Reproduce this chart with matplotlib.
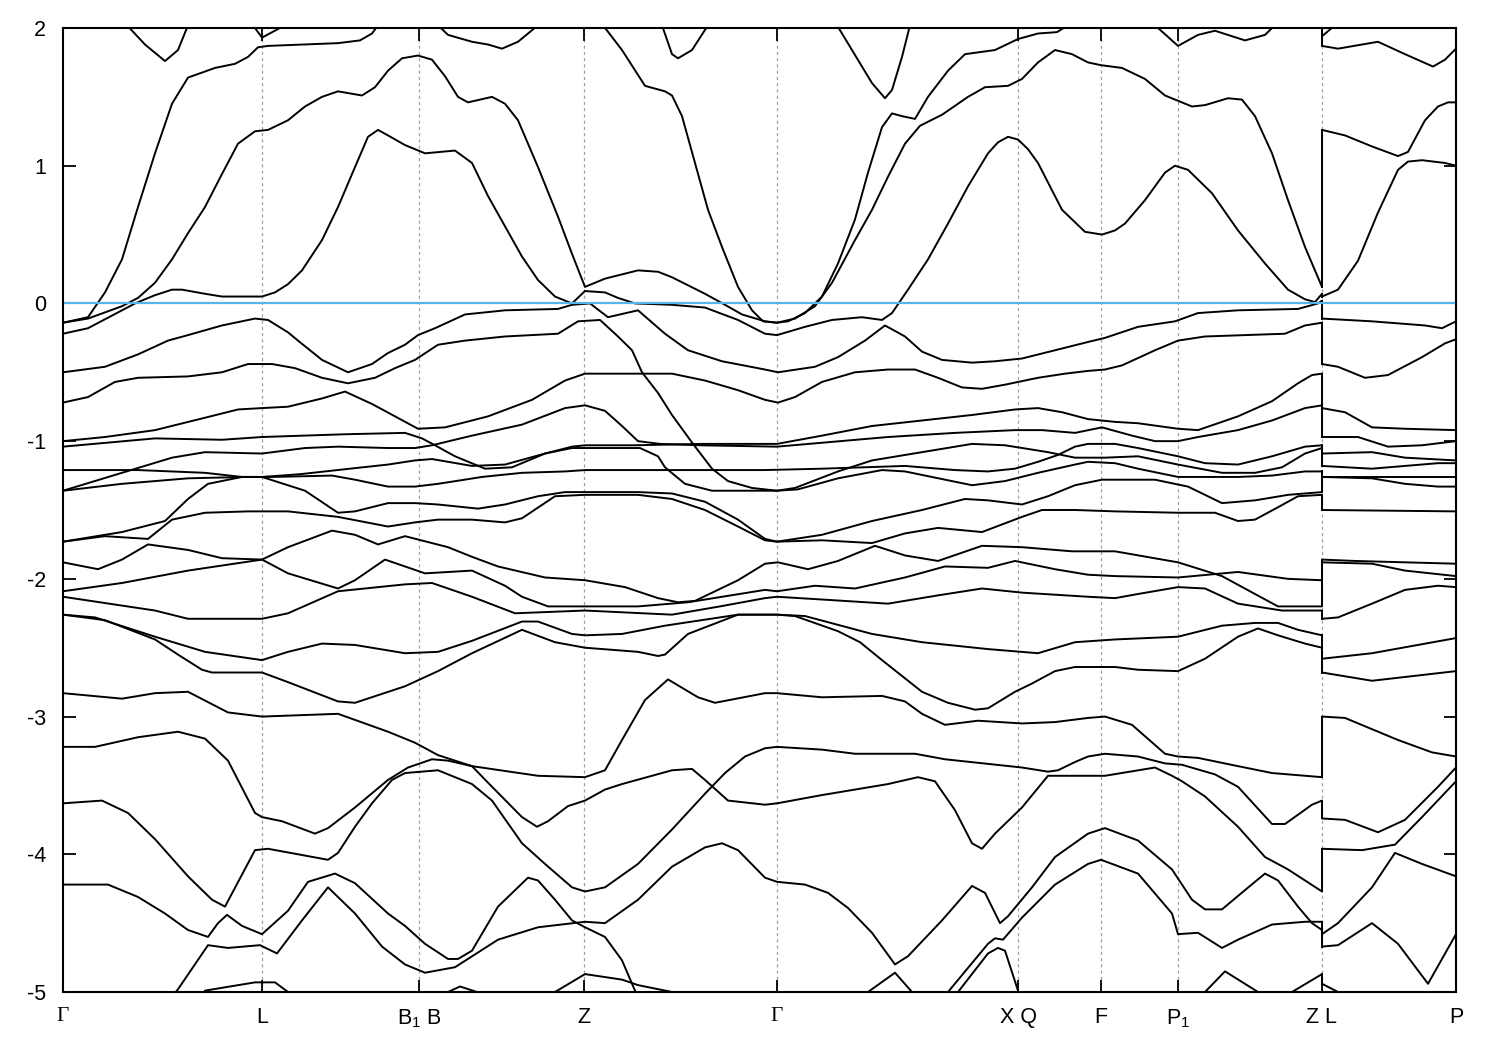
import matplotlib
matplotlib.use('Agg')
import matplotlib.pyplot as plt

plt.rcParams['font.family'] = ['Liberation Sans', 'DejaVu Sans']
plt.rcParams['mathtext.fontset'] = 'custom'
plt.rcParams['mathtext.rm'] = 'Liberation Sans'
plt.rcParams['mathtext.it'] = 'Liberation Sans'
plt.rcParams['axes.unicode_minus'] = False

# ---------------- data ----------------
kpt_pos = [0.0, 1.99, 3.56, 5.21, 7.14, 9.55, 10.38, 11.15, 12.59, 13.93]
kpt_labels = ['Γ', 'L', 'B$_1$ B', 'Z', 'Γ', 'X Q', 'F', 'P$_1$', 'Z L', 'P']
y_ticks = [-5, -4, -3, -2, -1, 0, 1, 2]
E_fermi = 0.0
k_jump = 12.59   # Z | L discontinuity

# bands along Γ-L-B1|B-Z-Γ-X|Q-F-P1-Z   (k, E[eV])
band_t1 = [(0.64, 2.02), (0.82, 1.88), (1.02, 1.76), (1.15, 1.84), (1.25, 2.02)]
band_t8 = [(1.90, 2.02), (1.99, 1.93), (2.22, 2.02)]
band_t7 = [(3.75, 2.02), (3.85, 1.95), (4.09, 1.90), (4.25, 1.88), (4.39, 1.85), (4.55, 1.90), (4.75, 2.02)]
band_t6 = [(5.99, 2.02), (6.09, 1.81), (6.15, 1.78), (6.29, 1.84), (6.45, 2.02)]
band_t9 = [(7.74, 2.02), (7.89, 1.84), (8.09, 1.60), (8.22, 1.49), (8.29, 1.55), (8.39, 1.79), (8.47, 2.02)]
band_t14 = [(10.92, 2.02), (11.15, 1.87), (11.35, 1.95), (11.52, 1.98), (11.82, 1.91), (12.02, 1.95), (12.12, 2.02)]

band_a = [(0, -0.14), (0.25, -0.10), (0.42, 0.08), (0.59, 0.32), (0.75, 0.70), (0.92, 1.09), (1.09, 1.45),
          (1.25, 1.64), (1.52, 1.71), (1.72, 1.74), (1.85, 1.79), (1.95, 1.86), (2.05, 1.87), (2.75, 1.89),
          (2.97, 1.91), (3.09, 1.96), (3.15, 2.02)]

band_b = [(5.40, 2.02), (5.59, 1.84), (5.82, 1.58), (6.02, 1.54), (6.09, 1.51), (6.19, 1.36), (6.32, 1.02),
          (6.45, 0.68), (6.59, 0.41), (6.75, 0.12), (6.89, -0.05), (7.00, -0.13), (7.14, -0.14), (7.25, -0.13),
          (7.42, -0.07), (7.59, 0.05), (7.75, 0.29), (7.92, 0.61), (8.05, 0.95), (8.19, 1.28), (8.29, 1.38),
          (8.39, 1.36), (8.52, 1.34), (8.65, 1.50), (8.85, 1.69), (9.02, 1.81), (9.32, 1.84), (9.55, 1.92),
          (9.75, 1.96), (9.94, 1.97), (10.05, 2.02)]

band_c = [(0, -0.14), (0.25, -0.11), (0.59, -0.02), (0.75, 0.04), (0.92, 0.15), (1.09, 0.32), (1.25, 0.51),
          (1.42, 0.70), (1.59, 0.94), (1.75, 1.16), (1.92, 1.25), (2.05, 1.26), (2.25, 1.33), (2.42, 1.43),
          (2.59, 1.50), (2.75, 1.54), (2.99, 1.51), (3.12, 1.57), (3.25, 1.69), (3.39, 1.78), (3.55, 1.80),
          (3.69, 1.77), (3.82, 1.65), (3.95, 1.50), (4.05, 1.46), (4.29, 1.50), (4.42, 1.45), (4.55, 1.33),
          (4.75, 0.99), (4.95, 0.63), (5.09, 0.36), (5.22, 0.12), (5.42, 0.18), (5.75, 0.24), (5.95, 0.23),
          (6.09, 0.19), (6.42, 0.07), (6.62, -0.01), (6.79, -0.08), (7.02, -0.13), (7.14, -0.14), (7.32, -0.11),
          (7.52, -0.02), (7.69, 0.15), (7.92, 0.46), (8.09, 0.68), (8.25, 0.92), (8.42, 1.16), (8.57, 1.29),
          (8.79, 1.37), (9.05, 1.50), (9.22, 1.57), (9.45, 1.58), (9.59, 1.63), (9.75, 1.75), (9.92, 1.84),
          (10.09, 1.81), (10.25, 1.75), (10.38, 1.73), (10.59, 1.71), (10.82, 1.63), (11.02, 1.51), (11.29, 1.43),
          (11.42, 1.44), (11.65, 1.49), (11.79, 1.48), (11.92, 1.36), (12.09, 1.09), (12.25, 0.75), (12.42, 0.41),
          (12.59, 0.12)]

band_d = [(0, -0.22), (0.25, -0.18), (0.59, -0.05), (0.72, 0.0), (0.92, 0.06), (1.09, 0.10), (1.19, 0.10),
          (1.42, 0.07), (1.59, 0.05), (1.99, 0.05), (2.12, 0.08), (2.25, 0.14), (2.39, 0.24), (2.59, 0.46),
          (2.75, 0.70), (2.92, 0.99), (3.05, 1.21), (3.15, 1.26), (3.25, 1.22), (3.42, 1.15), (3.62, 1.09),
          (3.92, 1.11), (4.09, 1.02), (4.25, 0.78), (4.42, 0.56), (4.59, 0.34), (4.75, 0.17), (4.92, 0.05),
          (5.09, 0.0), (5.22, 0.09), (5.42, 0.08), (5.55, 0.04), (5.72, 0.0), (6.09, -0.01), (6.42, -0.03),
          (6.75, -0.12), (7.02, -0.22), (7.14, -0.23), (7.42, -0.17), (7.69, -0.12), (7.99, -0.10), (8.19, -0.12),
          (8.29, -0.07), (8.45, 0.10), (8.65, 0.32), (8.85, 0.58), (9.05, 0.85), (9.25, 1.09), (9.35, 1.17),
          (9.45, 1.21), (9.55, 1.19), (9.65, 1.12), (9.75, 1.02), (9.99, 0.68), (10.22, 0.52), (10.39, 0.50),
          (10.52, 0.53), (10.62, 0.58), (10.82, 0.75), (11.02, 0.95), (11.12, 1.0), (11.25, 0.97), (11.49, 0.80),
          (11.75, 0.53), (12.02, 0.29), (12.25, 0.10), (12.42, 0.03), (12.52, 0.01), (12.59, 0.07)]

band_n = [(0, -0.50), (0.42, -0.46), (0.75, -0.37), (1.05, -0.27), (1.25, -0.23), (1.59, -0.16), (1.92, -0.11),
          (2.05, -0.12), (2.25, -0.21), (2.35, -0.27), (2.59, -0.41), (2.85, -0.50), (3.09, -0.44), (3.25, -0.36),
          (3.42, -0.30), (3.55, -0.23), (3.72, -0.18), (4.02, -0.08), (4.42, -0.05), (4.95, -0.04), (5.09, -0.01),
          (5.27, 0.0), (5.45, -0.10), (5.75, -0.05), (6.02, -0.22), (6.25, -0.34), (6.59, -0.42), (7.02, -0.48),
          (7.15, -0.50), (7.52, -0.46), (7.75, -0.39), (8.02, -0.27), (8.22, -0.16), (8.42, -0.24), (8.59, -0.35),
          (8.79, -0.41), (9.09, -0.43), (9.32, -0.42), (9.59, -0.40), (9.92, -0.34), (10.25, -0.28), (10.42, -0.25),
          (10.75, -0.17), (11.12, -0.13), (11.35, -0.07), (11.75, -0.05), (12.35, -0.04), (12.55, 0.0), (12.59, 0.02)]

band_m1 = [(0, -0.72), (0.25, -0.68), (0.52, -0.57), (0.75, -0.54), (1.25, -0.53), (1.59, -0.50), (1.85, -0.44),
           (2.09, -0.44), (2.32, -0.47), (2.59, -0.54), (2.85, -0.58), (3.12, -0.54), (3.32, -0.47), (3.52, -0.41),
           (3.75, -0.30), (4.02, -0.27), (4.42, -0.24), (4.95, -0.22), (5.15, -0.13), (5.37, -0.12), (5.55, -0.24),
           (5.69, -0.34), (5.79, -0.50), (5.95, -0.65), (6.09, -0.81), (6.29, -1.01), (6.49, -1.20), (6.65, -1.29),
           (6.89, -1.34), (7.14, -1.36), (7.32, -1.34), (7.75, -1.22), (8.09, -1.14), (8.59, -1.08), (9.09, -1.02),
           (9.42, -1.03), (9.85, -1.08), (10.12, -1.12), (10.42, -1.12), (10.75, -1.11), (11.15, -1.17),
           (11.59, -1.23), (11.92, -1.23), (12.19, -1.19), (12.42, -1.09), (12.59, -1.05)]

band_m2 = [(0, -1.00), (0.42, -0.97), (0.92, -0.92), (1.42, -0.83), (1.75, -0.77), (1.99, -0.76), (2.25, -0.75),
           (2.59, -0.69), (2.82, -0.64), (3.09, -0.73), (3.32, -0.82), (3.55, -0.91), (3.82, -0.90), (4.25, -0.82),
           (4.69, -0.70), (5.02, -0.56), (5.22, -0.51), (5.75, -0.51), (6.09, -0.51), (6.42, -0.56), (6.75, -0.63),
           (7.02, -0.70), (7.15, -0.72), (7.32, -0.68), (7.59, -0.57), (7.92, -0.50), (8.25, -0.48), (8.52, -0.48),
           (8.75, -0.54), (8.99, -0.61), (9.19, -0.62), (9.42, -0.59), (9.75, -0.54), (10.02, -0.51), (10.25, -0.49),
           (10.42, -0.48), (10.59, -0.45), (10.92, -0.34), (11.15, -0.27), (11.42, -0.24), (12.22, -0.22),
           (12.42, -0.16), (12.59, -0.14)]

band_m3 = [(0, -1.04), (0.92, -0.98), (1.59, -0.99), (1.99, -0.97), (2.82, -0.95), (3.42, -0.94), (3.59, -0.98),
           (3.72, -1.03), (3.92, -1.11), (4.22, -1.20), (4.49, -1.19), (4.82, -1.09), (5.09, -1.04), (5.22, -1.03),
           (5.72, -1.03), (6.37, -1.02), (7.14, -1.02), (7.59, -0.96), (8.09, -0.89), (8.59, -0.85), (9.09, -0.81),
           (9.52, -0.77), (9.75, -0.76), (9.99, -0.79), (10.25, -0.84), (10.52, -0.86), (10.75, -0.87),
           (11.15, -0.91), (11.35, -0.92), (11.75, -0.82), (12.09, -0.71), (12.35, -0.58), (12.49, -0.52),
           (12.59, -0.51)]

band_p = [(0, -1.36), (0.59, -1.23), (1.09, -1.12), (1.42, -1.08), (1.99, -1.09), (2.42, -1.05), (2.75, -1.04),
          (3.25, -1.05), (3.52, -1.05), (3.69, -1.03), (4.09, -0.96), (4.59, -0.88), (5.02, -0.76), (5.22, -0.74),
          (5.42, -0.78), (5.59, -0.89), (5.75, -1.00), (5.97, -1.02), (6.37, -1.03), (7.14, -1.04), (8.25, -0.97),
          (8.92, -0.94), (9.52, -0.92), (9.79, -0.92), (10.12, -0.94), (10.39, -0.90), (10.69, -0.96),
          (10.92, -1.00), (11.15, -1.00), (11.35, -0.97), (11.75, -0.92), (12.09, -0.85), (12.42, -0.76),
          (12.59, -0.74)]

band_q = [(0, -1.21), (0.75, -1.21), (1.42, -1.23), (1.79, -1.26), (2.09, -1.26), (2.69, -1.25), (2.92, -1.28),
          (3.25, -1.33), (3.52, -1.33), (3.75, -1.31), (4.19, -1.26), (4.59, -1.23), (5.02, -1.22), (5.22, -1.21),
          (5.99, -1.21), (7.02, -1.21), (7.59, -1.20), (8.42, -1.18), (8.92, -1.21), (9.25, -1.22), (9.52, -1.20),
          (9.75, -1.15), (9.95, -1.10), (10.12, -1.04), (10.25, -1.02), (10.52, -1.02), (10.75, -1.05),
          (11.15, -1.11), (11.42, -1.16), (11.75, -1.17), (12.09, -1.11), (12.42, -1.04), (12.59, -1.03)]

band_r0 = [(0, -1.36), (0.59, -1.31), (1.25, -1.27), (1.82, -1.26), (1.99, -1.26), (2.37, -1.24), (2.87, -1.20),
           (3.25, -1.17), (3.52, -1.14), (3.69, -1.13), (4.09, -1.18), (4.42, -1.17), (4.82, -1.09), (5.09, -1.05),
           (5.22, -1.05), (5.77, -1.05), (5.95, -1.11), (6.02, -1.19), (6.22, -1.31), (6.49, -1.36), (7.14, -1.36),
           (7.35, -1.35), (7.75, -1.27), (8.19, -1.21), (8.42, -1.22), (9.09, -1.32), (9.42, -1.29), (9.75, -1.23),
           (10.12, -1.17), (10.25, -1.15), (10.52, -1.16), (10.75, -1.20), (11.15, -1.26), (11.75, -1.26),
           (12.09, -1.25), (12.42, -1.22), (12.59, -1.22)]

band_s1 = [(0, -1.73), (0.59, -1.66), (1.02, -1.58), (1.25, -1.42), (1.45, -1.31), (1.79, -1.26), (1.99, -1.26),
           (2.42, -1.36), (2.75, -1.52), (2.92, -1.51), (3.25, -1.45), (3.52, -1.45), (3.75, -1.46), (4.15, -1.49),
           (4.42, -1.46), (4.75, -1.40), (5.02, -1.37), (5.22, -1.37), (5.75, -1.37), (6.09, -1.38), (6.42, -1.44),
           (6.75, -1.57), (7.02, -1.71), (7.14, -1.73), (7.59, -1.68), (8.09, -1.58), (8.59, -1.50), (9.02, -1.42),
           (9.25, -1.43), (9.59, -1.46), (9.85, -1.40), (10.12, -1.32), (10.39, -1.28), (10.92, -1.28),
           (11.25, -1.33), (11.59, -1.45), (11.92, -1.43), (12.25, -1.39), (12.59, -1.37)]

band_s2 = [(0, -1.73), (0.42, -1.69), (0.85, -1.71), (1.09, -1.57), (1.42, -1.52), (1.85, -1.51), (2.25, -1.51),
           (2.75, -1.55), (3.25, -1.62), (3.52, -1.59), (3.75, -1.57), (4.09, -1.57), (4.42, -1.59), (4.59, -1.56),
           (4.92, -1.40), (5.22, -1.39), (5.75, -1.39), (6.09, -1.42), (6.42, -1.50), (6.75, -1.62), (7.02, -1.72),
           (7.14, -1.73), (7.59, -1.72), (8.09, -1.74), (8.42, -1.67), (8.75, -1.63), (9.19, -1.66), (9.59, -1.55),
           (9.79, -1.50), (10.12, -1.50), (10.52, -1.51), (11.15, -1.52), (11.52, -1.52), (11.75, -1.58),
           (11.92, -1.57), (12.15, -1.48), (12.35, -1.40), (12.59, -1.39)]

band_c1 = [(0, -1.88), (0.35, -1.93), (0.59, -1.86), (0.85, -1.75), (1.25, -1.79), (1.59, -1.85), (1.99, -1.86),
           (2.25, -1.77), (2.69, -1.65), (2.92, -1.68), (3.15, -1.75), (3.42, -1.69), (3.85, -1.77), (4.09, -1.84),
           (4.35, -1.91), (4.82, -1.99), (5.22, -2.01), (5.62, -2.06), (5.95, -2.14), (6.15, -2.17), (6.32, -2.16),
           (6.75, -2.01), (7.02, -1.89), (7.15, -1.88), (7.45, -1.93), (7.75, -1.87), (8.12, -1.76), (8.42, -1.83),
           (8.75, -1.87), (9.19, -1.76), (9.59, -1.77), (10.09, -1.80), (10.52, -1.80), (11.15, -1.88),
           (11.59, -1.98), (11.92, -2.11), (12.15, -2.20), (12.59, -2.20)]

band_c2 = [(0, -2.09), (0.59, -2.03), (1.25, -1.94), (1.99, -1.86), (2.25, -1.96), (2.75, -2.07), (2.92, -2.01),
           (3.22, -1.86), (3.42, -1.91), (3.62, -1.96), (4.09, -1.94), (4.42, -2.05), (4.59, -2.13), (4.85, -2.20),
           (5.22, -2.20), (5.75, -2.20), (6.25, -2.17), (7.02, -2.08), (7.14, -2.09), (7.52, -2.05), (7.92, -2.07),
           (8.42, -1.99), (8.82, -1.91), (9.25, -1.92), (9.52, -1.87), (9.92, -1.93), (10.25, -1.97),
           (10.52, -1.98), (11.15, -1.99), (11.75, -1.95), (12.25, -2.00), (12.59, -2.01)]

band_c3 = [(0, -2.13), (0.92, -2.23), (1.25, -2.29), (1.99, -2.29), (2.25, -2.25), (2.75, -2.09), (3.42, -2.04),
           (3.69, -2.03), (4.09, -2.13), (4.52, -2.25), (5.22, -2.23), (6.09, -2.26), (6.57, -2.20), (7.02, -2.14),
           (7.14, -2.13), (7.59, -2.15), (8.25, -2.18), (8.75, -2.12), (9.19, -2.07), (9.59, -2.10), (10.25, -2.13),
           (10.52, -2.14), (10.75, -2.11), (11.15, -2.06), (11.42, -2.07), (11.75, -2.18), (12.19, -2.23),
           (12.59, -2.23)]

band_w1 = [(0, -2.26), (0.32, -2.28), (0.92, -2.42), (1.42, -2.53), (1.99, -2.59), (2.25, -2.53), (2.59, -2.47),
           (2.92, -2.48), (3.42, -2.54), (3.75, -2.53), (4.09, -2.45), (4.59, -2.31), (4.75, -2.31), (5.09, -2.40),
           (5.22, -2.41), (5.59, -2.40), (6.02, -2.34), (6.75, -2.26), (7.14, -2.26), (7.42, -2.27), (8.09, -2.40),
           (8.59, -2.46), (9.25, -2.51), (9.75, -2.54), (10.12, -2.46), (10.52, -2.44), (11.15, -2.42),
           (11.59, -2.34), (11.92, -2.32), (12.15, -2.32), (12.35, -2.37), (12.59, -2.41)]

band_w2 = [(0, -2.26), (0.42, -2.30), (0.92, -2.44), (1.15, -2.55), (1.39, -2.66), (1.49, -2.68), (1.99, -2.68),
           (2.25, -2.75), (2.75, -2.89), (2.92, -2.90), (3.42, -2.78), (3.75, -2.67), (4.09, -2.54), (4.59, -2.37),
           (4.92, -2.46), (5.22, -2.50), (5.75, -2.53), (5.95, -2.56), (6.02, -2.55), (6.25, -2.40), (6.75, -2.26),
           (7.14, -2.26), (7.32, -2.27), (7.75, -2.38), (7.97, -2.46), (8.19, -2.59), (8.59, -2.82), (8.85, -2.90),
           (9.12, -2.95), (9.25, -2.94), (9.52, -2.82), (9.69, -2.76), (9.92, -2.67), (10.12, -2.64), (10.52, -2.64),
           (10.75, -2.66), (11.15, -2.67), (11.42, -2.58), (11.75, -2.42), (11.95, -2.36), (12.15, -2.41),
           (12.42, -2.47), (12.59, -2.50)]

band_x1 = [(0, -2.83), (0.59, -2.87), (0.92, -2.83), (1.25, -2.82), (1.65, -2.97), (1.99, -3.00), (2.75, -2.98),
           (3.25, -3.11), (3.52, -3.19), (3.75, -3.28), (4.09, -3.36), (4.75, -3.43), (5.22, -3.44), (5.42, -3.39),
           (5.59, -3.17), (5.82, -2.88), (6.05, -2.73), (6.35, -2.86), (6.52, -2.90), (7.02, -2.83), (7.14, -2.83),
           (7.59, -2.86), (8.19, -2.85), (8.42, -2.89), (8.59, -2.98), (8.82, -3.06), (9.15, -3.03), (9.59, -3.05),
           (9.92, -3.04), (10.25, -3.01), (10.42, -3.00), (10.69, -3.06), (11.02, -3.27), (11.15, -3.29),
           (11.35, -3.30), (11.75, -3.36), (12.09, -3.41), (12.59, -3.44)]

band_x2 = [(0, -3.22), (0.32, -3.22), (0.75, -3.15), (1.15, -3.11), (1.42, -3.16), (1.65, -3.32), (1.92, -3.70),
           (1.99, -3.73), (2.19, -3.76), (2.52, -3.85), (2.65, -3.81), (2.92, -3.66), (3.25, -3.46), (3.45, -3.37),
           (3.69, -3.31), (3.85, -3.32), (4.09, -3.36), (4.25, -3.48), (4.59, -3.73), (4.74, -3.80), (4.85, -3.76),
           (5.05, -3.65), (5.22, -3.61), (5.42, -3.53), (5.59, -3.49), (6.09, -3.39), (6.29, -3.38), (6.42, -3.46),
           (6.65, -3.61), (7.02, -3.64), (7.14, -3.63), (7.59, -3.57), (8.25, -3.49), (8.55, -3.44), (8.72, -3.47),
           (8.92, -3.68), (9.09, -3.92), (9.19, -3.96), (9.32, -3.85), (9.59, -3.66), (9.85, -3.43), (10.25, -3.43),
           (10.42, -3.43), (10.92, -3.37), (11.09, -3.43), (11.19, -3.47), (11.42, -3.58), (11.75, -3.80),
           (12.02, -4.02), (12.25, -4.11), (12.59, -4.27)]

band_x3 = [(0, -3.63), (0.39, -3.61), (0.65, -3.70), (0.92, -3.89), (1.25, -4.16), (1.49, -4.33), (1.62, -4.38),
           (1.92, -3.97), (2.05, -3.96), (2.65, -4.04), (2.75, -3.99), (2.92, -3.80), (3.09, -3.63), (3.29, -3.46),
           (3.42, -3.41), (3.75, -3.39), (4.09, -3.49), (4.29, -3.61), (4.59, -3.92), (4.82, -4.07), (5.09, -4.24),
           (5.22, -4.27), (5.42, -4.24), (5.75, -4.07), (6.09, -3.82), (6.42, -3.56), (6.62, -3.41), (6.82, -3.29),
           (7.02, -3.23), (7.14, -3.22), (7.59, -3.24), (7.92, -3.27), (8.52, -3.27), (8.82, -3.31), (9.59, -3.37),
           (9.85, -3.40), (9.95, -3.39), (10.12, -3.33), (10.25, -3.29), (10.42, -3.27), (10.75, -3.29),
           (11.02, -3.34), (11.19, -3.35), (11.52, -3.42), (11.75, -3.51), (12.09, -3.78), (12.22, -3.78),
           (12.49, -3.64), (12.59, -3.61)]

band_v1 = [(0, -4.22), (0.45, -4.22), (0.75, -4.31), (1.02, -4.43), (1.25, -4.55), (1.45, -4.60), (1.55, -4.50),
           (1.64, -4.44), (1.79, -4.52), (1.99, -4.58), (2.25, -4.41), (2.45, -4.20), (2.72, -4.14), (2.92, -4.21),
           (3.25, -4.43), (3.42, -4.52), (3.62, -4.65), (3.85, -4.76), (3.95, -4.76), (4.09, -4.70), (4.35, -4.38),
           (4.65, -4.17), (4.75, -4.19), (4.92, -4.33), (5.09, -4.48), (5.22, -4.53), (5.42, -4.60), (5.59, -4.77),
           (5.72, -4.99), (5.77, -5.05)]

band_v2 = [(1.07, -5.05), (1.15, -4.98), (1.45, -4.66), (1.65, -4.68), (1.97, -4.66), (2.14, -4.72), (2.39, -4.48),
           (2.65, -4.24), (2.92, -4.43), (3.19, -4.67), (3.42, -4.80), (3.62, -4.86), (3.92, -4.82), (4.35, -4.62),
           (4.75, -4.53), (5.22, -4.49), (5.42, -4.50), (5.75, -4.33), (6.09, -4.09), (6.42, -3.95), (6.59, -3.92),
           (6.75, -3.97), (7.02, -4.17), (7.14, -4.20), (7.42, -4.22), (7.65, -4.28), (7.85, -4.39), (8.09, -4.57),
           (8.32, -4.80), (8.45, -4.74), (8.79, -4.48), (9.09, -4.23), (9.22, -4.28), (9.37, -4.50), (9.45, -4.45),
           (9.69, -4.24), (9.92, -4.02), (10.25, -3.85), (10.42, -3.81), (10.75, -3.90), (11.09, -4.11),
           (11.29, -4.33), (11.42, -4.40), (11.59, -4.40), (11.82, -4.26), (12.02, -4.14), (12.15, -4.19),
           (12.35, -4.38), (12.49, -4.50), (12.59, -4.55)]

band_x6 = [(8.82, -5.05), (8.85, -5.0), (9.25, -4.65), (9.32, -4.61), (9.40, -4.62), (9.59, -4.46), (9.92, -4.22),
           (10.25, -4.07), (10.38, -4.04), (10.75, -4.14), (11.09, -4.43), (11.15, -4.58), (11.35, -4.57),
           (11.59, -4.68), (11.75, -4.62), (12.09, -4.51), (12.42, -4.49), (12.59, -4.49)]
band_x7 = [(8.92, -5.05), (8.95, -5.0), (9.25, -4.72), (9.35, -4.68), (9.42, -4.70), (9.55, -4.99), (9.56, -5.05)]

band_sb1 = [(8.02, -5.05), (8.05, -5.0), (8.32, -4.86), (8.49, -5.0), (8.52, -5.05)]
band_sb2 = [(11.39, -5.05), (11.42, -5.0), (11.62, -4.85), (11.95, -5.0), (11.99, -5.05)]
band_sb3 = [(12.25, -5.05), (12.29, -5.0), (12.59, -4.87)]
band_sb4 = [(3.82, -5.05), (3.85, -5.0), (3.97, -4.96), (4.14, -5.0), (4.17, -5.05)]
band_sb5 = [(4.87, -5.05), (4.92, -5.0), (5.22, -4.87), (5.59, -4.91), (5.75, -4.95), (6.09, -5.0), (6.17, -5.05)]
band_sb6 = [(1.37, -5.05), (1.42, -4.99), (1.92, -4.93), (2.12, -4.93), (2.25, -5.0), (2.27, -5.05)]

# bands along L-P (after the Z|L jump)
lp_t15 = [(12.59, 1.94), (12.72, 2.02)]
lp_t16 = [(12.59, 1.87), (12.75, 1.85), (13.15, 1.90), (13.42, 1.81), (13.70, 1.72), (13.82, 1.77), (13.93, 1.85)]
lp_t17 = [(12.59, 1.26), (12.82, 1.22), (13.09, 1.14), (13.35, 1.07), (13.45, 1.10), (13.62, 1.33), (13.75, 1.43),
          (13.85, 1.46), (13.93, 1.46)]
lp_t18 = [(12.59, 0.05), (12.75, 0.10), (12.95, 0.31), (13.15, 0.66), (13.35, 0.97), (13.45, 1.03), (13.59, 1.04),
          (13.82, 1.02), (13.93, 1.00)]
lp_a = [(12.59, -0.11), (13.09, -0.13), (13.62, -0.16), (13.79, -0.18), (13.93, -0.13)]
lp_1 = [(12.59, -0.44), (12.75, -0.46), (13.02, -0.54), (13.25, -0.52), (13.59, -0.39), (13.82, -0.29), (13.93, -0.26)]
lp_2 = [(12.59, -0.76), (12.82, -0.79), (13.09, -0.90), (13.42, -0.91), (13.93, -0.92)]
lp_3 = [(12.59, -0.97), (12.95, -0.97), (13.25, -1.04), (13.59, -1.03), (13.93, -1.00)]
lp_4 = [(12.59, -1.09), (13.09, -1.08), (13.42, -1.12), (13.93, -1.14)]
lp_5 = [(12.59, -1.18), (13.09, -1.20), (13.75, -1.16), (13.93, -1.16)]
lp_6 = [(12.59, -1.26), (12.92, -1.26), (13.93, -1.26)]
lp_7 = [(12.59, -1.26), (13.09, -1.27), (13.42, -1.31), (13.75, -1.33), (13.93, -1.33)]
lp_8 = [(12.59, -1.50), (13.93, -1.51)]
lp_9 = [(12.59, -1.86), (12.92, -1.87), (13.93, -1.89)]
lp_10 = [(12.59, -1.88), (13.09, -1.89), (13.42, -1.94), (13.93, -1.98)]
lp_11 = [(12.59, -2.29), (12.75, -2.28), (13.09, -2.18), (13.42, -2.08), (13.75, -2.05), (13.93, -2.06)]
lp_12 = [(12.59, -2.58), (13.09, -2.54), (13.93, -2.43)]
lp_13 = [(12.59, -2.68), (13.09, -2.74), (13.93, -2.67)]
lp_14 = [(12.59, -3.00), (12.82, -3.01), (13.35, -3.17), (13.69, -3.26), (13.93, -3.29)]
lp_15 = [(12.59, -3.74), (12.82, -3.75), (13.15, -3.84), (13.42, -3.75), (13.75, -3.51), (13.93, -3.37)]
lp_16 = [(12.59, -3.96), (12.99, -3.97), (13.32, -3.93), (13.59, -3.73), (13.93, -3.47)]
lp_17 = [(12.59, -4.58), (12.75, -4.50), (13.09, -4.24), (13.32, -3.99), (13.59, -4.07), (13.93, -4.16)]
lp_18 = [(12.59, -4.67), (12.75, -4.66), (13.09, -4.50), (13.35, -4.65), (13.65, -4.94), (13.93, -4.58)]
lp_19 = [(12.59, -4.94), (12.75, -5.0), (12.77, -5.05)]

# energies joined by the vertical jump at Z|L
zl_E_z = [2.05, 0.12, 0.07, 0.02, -0.14, -0.51, -0.74, -1.03, -1.05, -1.22, -1.37, -1.39, -2.01, -2.20, -2.23,
          -2.41, -2.50, -3.44, -3.61, -4.27, -4.49, -4.55, -4.87]
zl_E_l = [1.87, 1.26, 0.05, -0.11, -0.44, -0.76, -0.97, -1.09, -1.18, -1.26, -1.26, -1.50, -1.86, -1.88, -2.29,
          -2.58, -2.68, -3.00, -3.74, -3.96, -4.58, -4.67, -4.94]

bands = [band_t1, band_t8, band_t7, band_t6, band_t9, band_t14, band_a, band_b, band_c, band_d, band_n,
         band_m1, band_m2, band_m3, band_p, band_q, band_r0, band_s1, band_s2, band_c1, band_c2, band_c3,
         band_w1, band_w2, band_x1, band_x2, band_x3, band_v1, band_v2, band_x6, band_x7,
         band_sb1, band_sb2, band_sb3, band_sb4, band_sb5, band_sb6,
         lp_t15, lp_t16, lp_t17, lp_t18, lp_a, lp_1, lp_2, lp_3, lp_4, lp_5, lp_6, lp_7, lp_8, lp_9, lp_10,
         lp_11, lp_12, lp_13, lp_14, lp_15, lp_16, lp_17, lp_18, lp_19]

# ---------------- plot ----------------
W, H = 1500, 1050
fig = plt.figure(figsize=(W / 100, H / 100), dpi=100)
ax = fig.add_axes([63 / W, 1 - 992 / H, 1393 / W, 964 / H])

for kx in kpt_pos[1:-1]:
    ax.axvline(kx, color='#a0a0a0', lw=0.9, ls=(0, (2.5, 2.5)), zorder=1)

for b in bands:
    ks = [p[0] for p in b]
    es = [p[1] for p in b]
    ax.plot(ks, es, color='black', lw=1.4, solid_joinstyle='round', solid_capstyle='round', zorder=2)

for ez, el in zip(zl_E_z, zl_E_l):
    ax.plot([k_jump, k_jump], [ez, el], color='black', lw=1.4, zorder=2)

ax.axhline(E_fermi, color='#56b4e9', lw=1.6, zorder=3)

ax.set_xlim(kpt_pos[0], kpt_pos[-1])
ax.set_ylim(-5, 2)
ax.set_xticks(kpt_pos)
ax.set_xticklabels(kpt_labels)
ax.set_yticks(y_ticks)
ax.set_yticklabels([str(v) for v in y_ticks])
ax.tick_params(axis='both', direction='in', length=9, width=1.3, top=True, right=True,
               labelsize=15.5, colors='black')
ax.tick_params(axis='x', pad=11)
ax.tick_params(axis='y', pad=12)
for lab in ax.get_xticklabels():
    if lab.get_text() == 'Γ':
        lab.set_fontfamily(['Liberation Serif', 'DejaVu Serif'])
for sp in ax.spines.values():
    sp.set_linewidth(1.5)
    sp.set_zorder(4)

fig.savefig('out.png', dpi=100)
